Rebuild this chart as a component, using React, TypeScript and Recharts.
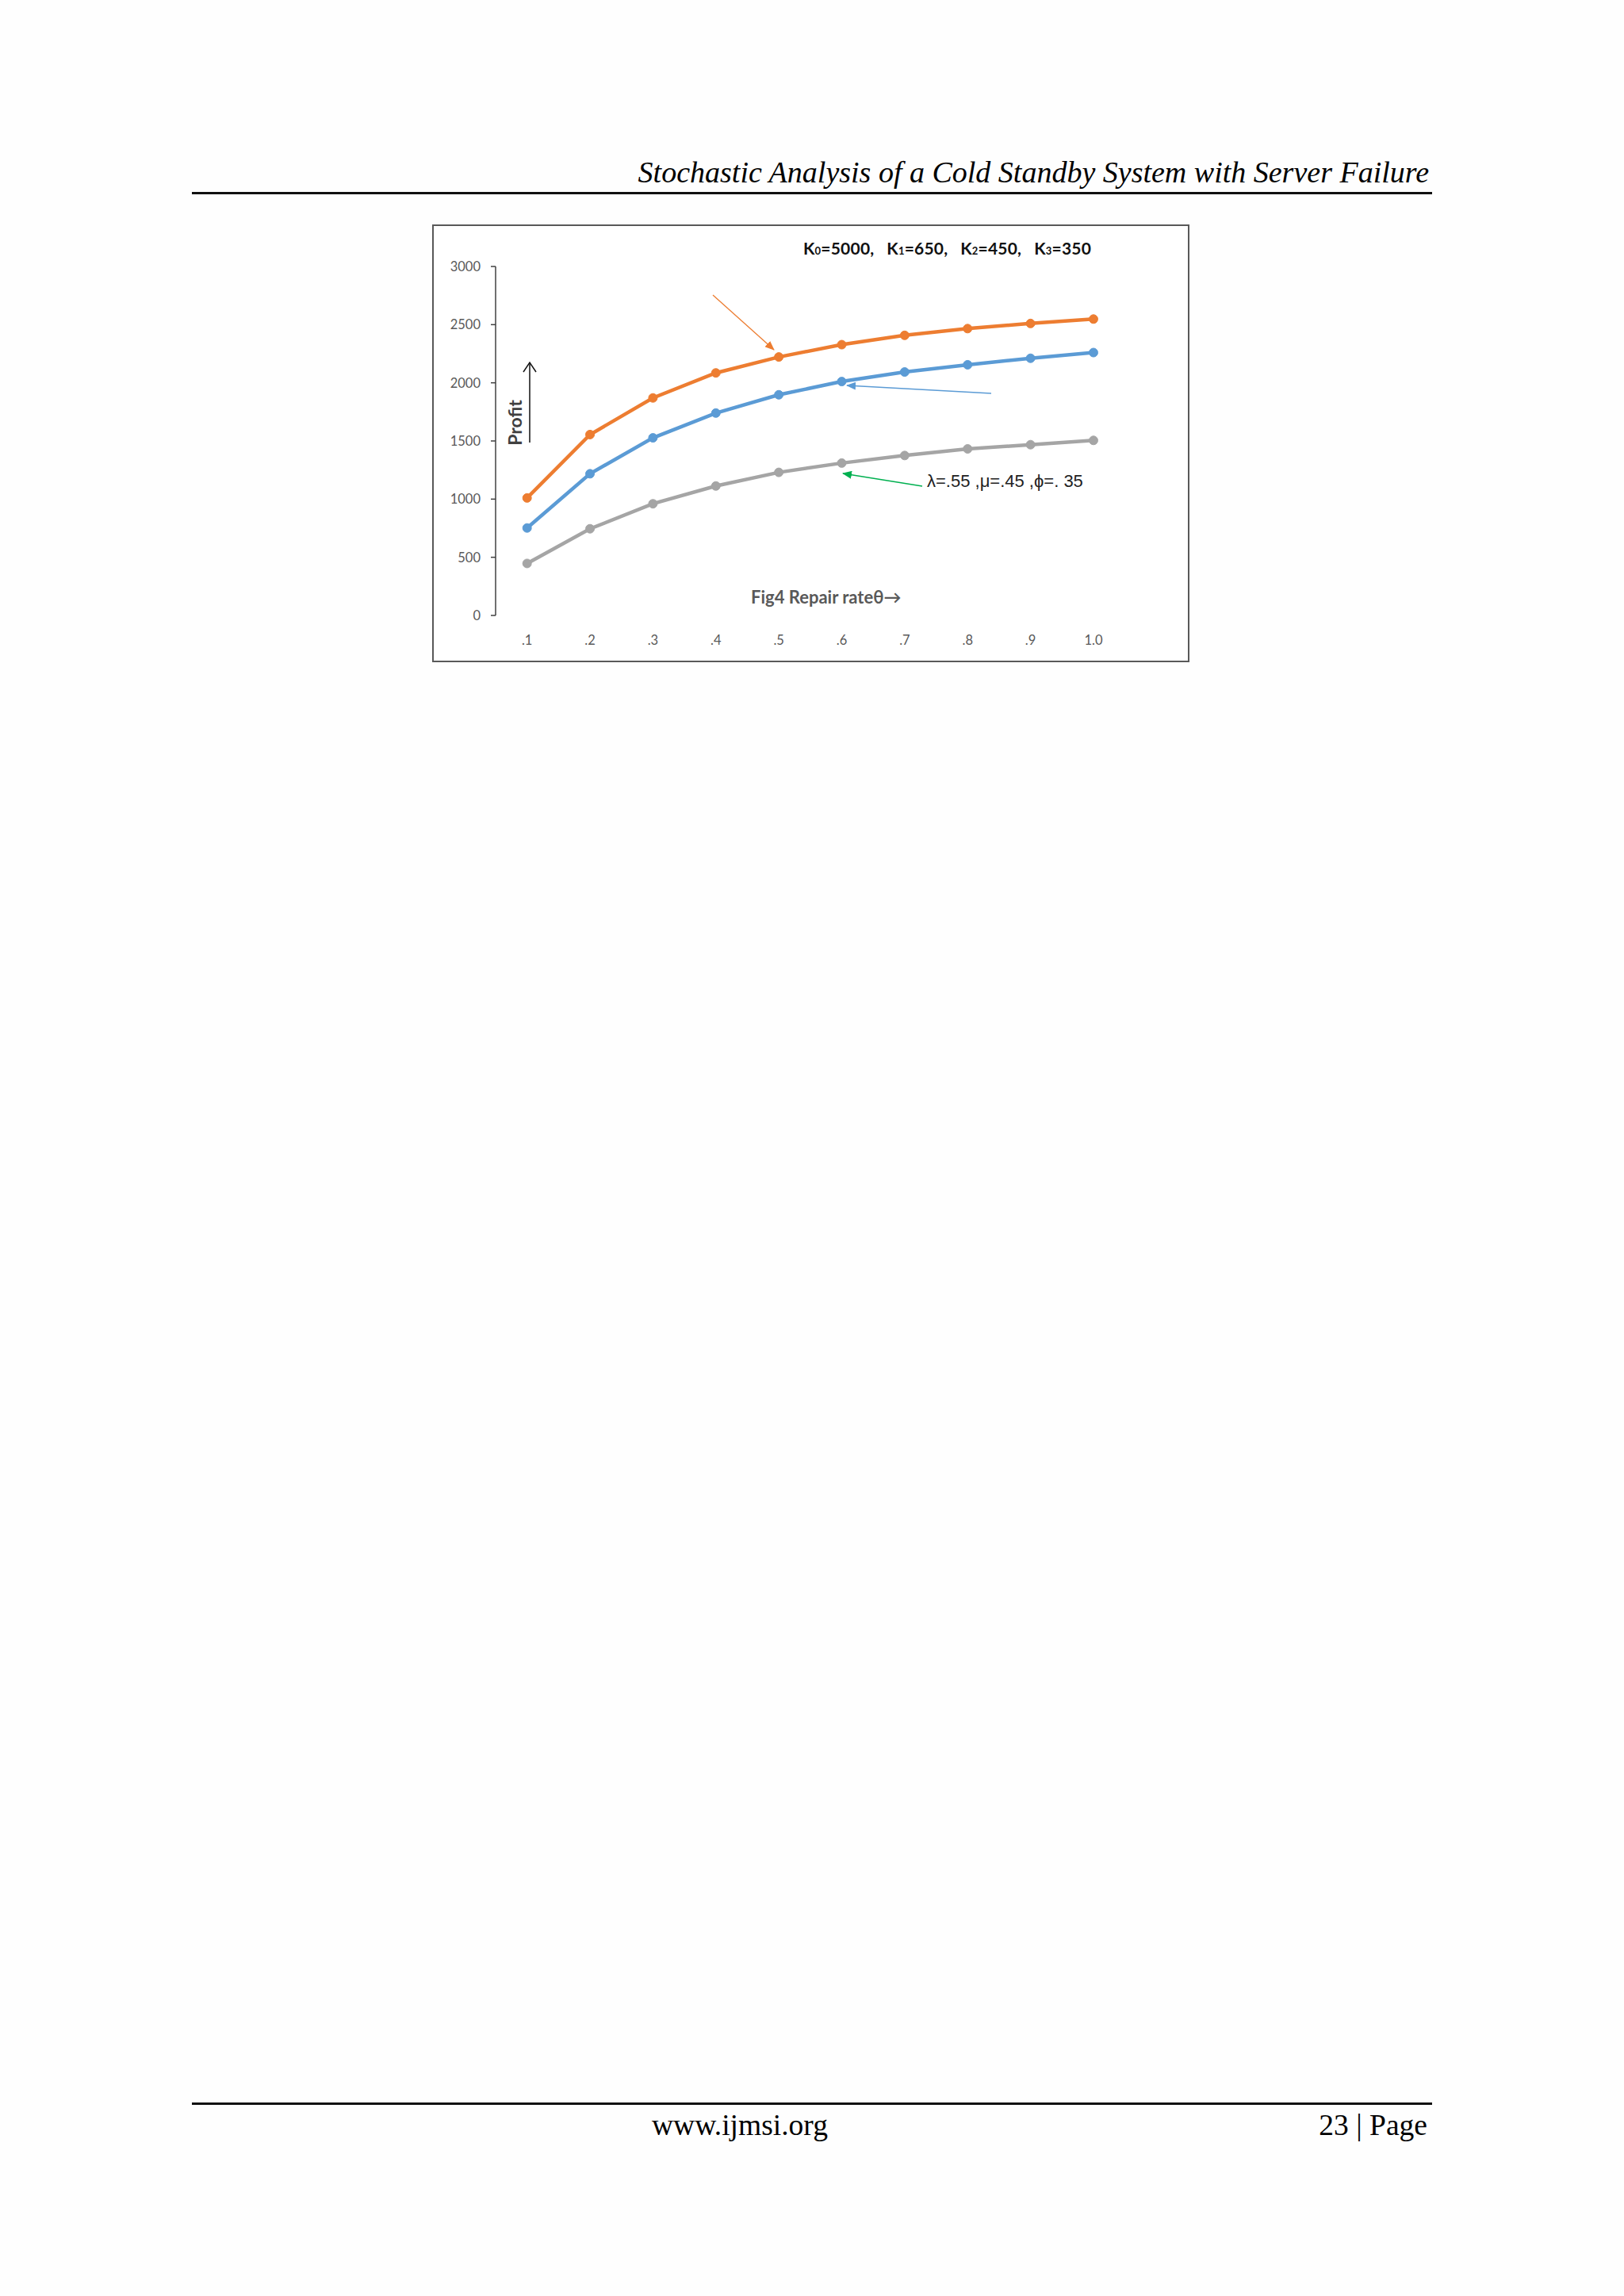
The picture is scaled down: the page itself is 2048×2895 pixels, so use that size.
import React from "react";
import { LineChart, Line, XAxis, YAxis } from "recharts";

// repair rate theta on the x axis
const thetaValues = [0.1, 0.2, 0.3, 0.4, 0.5, 0.6, 0.7, 0.8, 0.9, 1.0];
const thetaLabels = [".1", ".2", ".3", ".4", ".5", ".6", ".7", ".8", ".9", "1.0"];
// tick marks sit between the categories, like the Excel original
const thetaBounds = [0.05, 0.15, 0.25, 0.35, 0.45, 0.55, 0.65, 0.75, 0.85, 0.95, 1.05];

const profitTop = [1010, 1555, 1870, 2085, 2222, 2328, 2408, 2466, 2510, 2548];
const profitMid = [752, 1218, 1527, 1740, 1897, 2011, 2093, 2155, 2211, 2260];
const profitLow = [447, 745, 960, 1113, 1230, 1310, 1375, 1432, 1468, 1505];

const profitTicks = [0, 500, 1000, 1500, 2000, 2500, 3000];

const data = thetaValues.map((theta, i) => ({
  theta,
  top: profitTop[i],
  mid: profitMid[i],
  low: profitLow[i],
}));

const labelFor = (v: number) => {
  const i = thetaValues.findIndex((t) => Math.abs(t - v) < 1e-6);
  return i >= 0 ? thetaLabels[i] : "";
};

const chartFont = "Lato, 'Open Sans', sans-serif";
const axisColor = "#404040";
const tickText = { fontSize: 16.5, fill: "#595959", fontFamily: chartFont };

export default function App() {
  return (
    <div
      style={{
        position: "absolute",
        left: 0,
        top: 0,
        width: 2048,
        height: 2895,
        background: "#fefefe",
        fontFamily: "'Liberation Serif', 'Times New Roman', serif",
        color: "#000",
      }}
    >
      {/* running header */}
      <div
        style={{
          position: "absolute",
          right: 2048 - 1802,
          top: 194,
          fontSize: 38,
          fontStyle: "italic",
          whiteSpace: "nowrap",
          lineHeight: "46px",
        }}
      >
        Stochastic Analysis of a Cold Standby System with Server Failure
      </div>
      <div
        style={{ position: "absolute", left: 242, top: 242, width: 1564, height: 3, background: "#111" }}
      />

      {/* chart frame */}
      <div
        style={{
          position: "absolute",
          left: 545,
          top: 283,
          width: 955,
          height: 552,
          border: "2px solid #595959",
          boxSizing: "border-box",
          background: "#fff",
        }}
      />
      <div style={{ position: "absolute", left: 545, top: 283 }}>
        <LineChart
          width={955}
          height={552}
          data={data}
          margin={{ top: 53, right: 2, bottom: 0, left: 0 }}
        >
          <XAxis
            xAxisId="bounds"
            dataKey="theta"
            type="number"
            domain={[0.05, 1.15]}
            ticks={thetaBounds}
            tick={false}
            height={0}
            tickSize={6}
            axisLine={{ stroke: axisColor, strokeWidth: 1.5 }}
            tickLine={{ stroke: axisColor, strokeWidth: 1.5 }}
            allowDataOverflow
          />
          <XAxis
            xAxisId="theta"
            dataKey="theta"
            type="number"
            domain={[0.05, 1.15]}
            ticks={thetaValues}
            tickFormatter={labelFor}
            tick={tickText}
            axisLine={false}
            tickLine={false}
            tickSize={6}
            tickMargin={19}
            height={59}
            allowDataOverflow
          />
          <YAxis
            domain={[0, 3000]}
            ticks={profitTicks}
            width={80}
            tick={tickText}
            tickSize={6}
            tickMargin={13}
            axisLine={{ stroke: axisColor, strokeWidth: 1.5 }}
            tickLine={{ stroke: axisColor, strokeWidth: 1.5 }}
          />
          <Line
            xAxisId="theta"
            dataKey="low"
            stroke="#a5a5a5"
            strokeWidth={4.5}
            dot={{ r: 5.5, fill: "#a5a5a5", stroke: "#a5a5a5", strokeWidth: 1 }}
            isAnimationActive={false}
          />
          <Line
            xAxisId="theta"
            dataKey="mid"
            stroke="#5b9bd5"
            strokeWidth={4.5}
            dot={{ r: 5.5, fill: "#5b9bd5", stroke: "#5b9bd5", strokeWidth: 1 }}
            isAnimationActive={false}
          />
          <Line
            xAxisId="theta"
            dataKey="top"
            stroke="#ed7d31"
            strokeWidth={4.5}
            dot={{ r: 5.5, fill: "#ed7d31", stroke: "#ed7d31", strokeWidth: 1 }}
            isAnimationActive={false}
          />
        </LineChart>
      </div>

      {/* annotations drawn on top of the chart */}
      <svg
        width={955}
        height={552}
        style={{ position: "absolute", left: 545, top: 283, overflow: "visible" }}
      >
        <defs>
          <marker id="headOrange" markerWidth="12" markerHeight="10" refX="11" refY="5" orient="auto" markerUnits="userSpaceOnUse">
            <path d="M0,0 L12,5 L0,10 z" fill="#ed7d31" />
          </marker>
          <marker id="headBlue" markerWidth="12" markerHeight="10" refX="11" refY="5" orient="auto" markerUnits="userSpaceOnUse">
            <path d="M0,0 L12,5 L0,10 z" fill="#5b9bd5" />
          </marker>
          <marker id="headGreen" markerWidth="12" markerHeight="10" refX="11" refY="5" orient="auto" markerUnits="userSpaceOnUse">
            <path d="M0,0 L12,5 L0,10 z" fill="#00b050" />
          </marker>
        </defs>
        <g transform="translate(-545,-283)">
          <text x={1013} y={321} fontFamily={chartFont} fontWeight={700} fontSize={21} fill="#111" letterSpacing={0.2}>
            K<tspan fontSize={13}>0</tspan>=5000,{"\u00a0\u00a0\u00a0"}K<tspan fontSize={13}>1</tspan>=650,{"\u00a0\u00a0\u00a0"}K
            <tspan fontSize={13}>2</tspan>=450,{"\u00a0\u00a0\u00a0"}K<tspan fontSize={13}>3</tspan>=350
          </text>

          <text
            x={658}
            y={533}
            transform="rotate(-90 658 533)"
            textAnchor="middle"
            fontFamily={chartFont}
            fontWeight={700}
            fontSize={23}
            fill="#404040"
          >
            Profit
          </text>
          <line x1={668} y1={558} x2={668} y2={458} stroke="#111" strokeWidth={1.5} />
          <polyline points="660,469 668,457 676,469" fill="none" stroke="#111" strokeWidth={1.5} />

          <text x={947} y={761} fontFamily={chartFont} fontWeight={700} fontSize={22} fill="#595959">
            Fig4 Repair rate{"\u03b8\u2192"}
          </text>

          <text x={1169} y={614} fontFamily="'Liberation Sans', Arial, sans-serif" fontSize={22} fill="#222">
            {"\u03bb=.55 ,\u03bc=.45 ,\u03d5=. 35"}
          </text>

          <line x1={899} y1={372} x2={976} y2={441} stroke="#ed7d31" strokeWidth={1.3} markerEnd="url(#headOrange)" />
          <line x1={1250} y1={496} x2={1068} y2={486} stroke="#5b9bd5" strokeWidth={1.3} markerEnd="url(#headBlue)" />
          <line x1={1163} y1={613} x2={1063} y2={597} stroke="#00b050" strokeWidth={1.3} markerEnd="url(#headGreen)" />
        </g>
      </svg>

      {/* footer */}
      <div
        style={{ position: "absolute", left: 242, top: 2651, width: 1564, height: 3, background: "#111" }}
      />
      <div
        style={{
          position: "absolute",
          left: 822,
          top: 2658,
          fontSize: 37.5,
          whiteSpace: "nowrap",
          lineHeight: "44px",
        }}
      >
        www.ijmsi.org
      </div>
      <div
        style={{
          position: "absolute",
          right: 2048 - 1800,
          top: 2658,
          fontSize: 37.5,
          whiteSpace: "nowrap",
          lineHeight: "44px",
        }}
      >
        23 | Page
      </div>
    </div>
  );
}
